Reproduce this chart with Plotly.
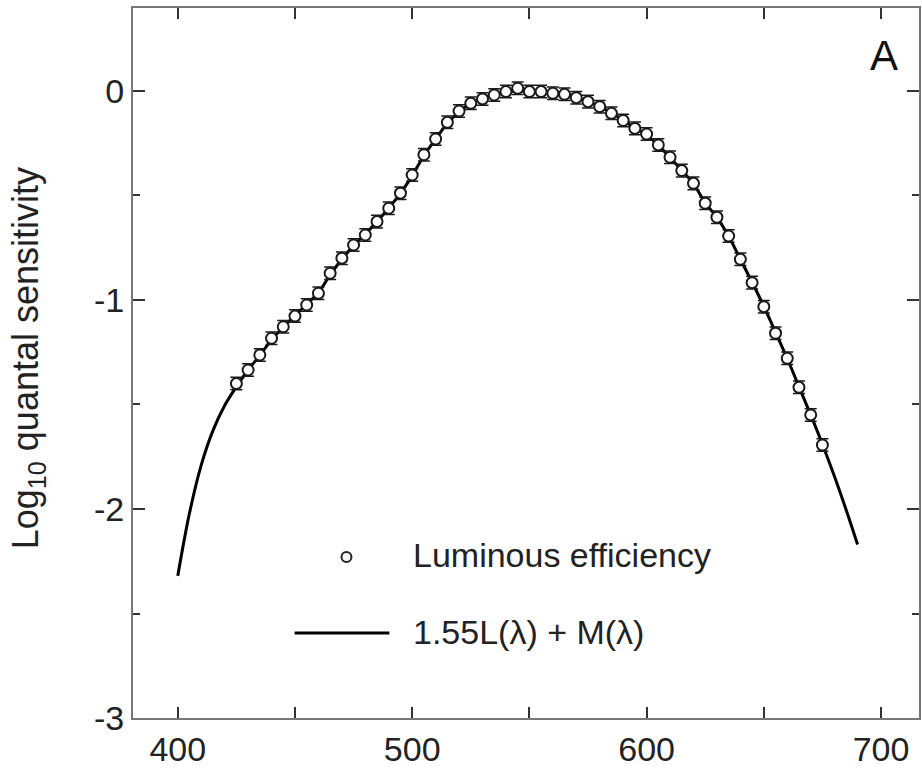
import plotly.graph_objects as go

# Luminous efficiency data (markers), 5 nm steps
wl_data = [425, 430, 435, 440, 445, 450, 455, 460, 465, 470, 475, 480, 485, 490, 495,
           500, 505, 510, 515, 520, 525, 530, 535, 540, 545, 550, 555, 560, 565, 570,
           575, 580, 585, 590, 595, 600, 605, 610, 615, 620, 625, 630, 635, 640, 645,
           650, 655, 660, 665, 670, 675]
lum_eff = [-1.40, -1.335, -1.263, -1.183, -1.128, -1.077, -1.024, -0.968, -0.872, -0.800,
           -0.737, -0.689, -0.625, -0.561, -0.489, -0.402, -0.305, -0.230, -0.150, -0.096,
           -0.059, -0.038, -0.019, -0.003, 0.013, -0.003, -0.003, -0.011, -0.016, -0.032,
           -0.051, -0.075, -0.107, -0.141, -0.179, -0.206, -0.258, -0.317, -0.381, -0.442,
           -0.537, -0.604, -0.694, -0.805, -0.917, -1.032, -1.159, -1.279, -1.418, -1.550,
           -1.694]
lum_err = [0.03] * len(wl_data)

# Fitted curve 1.55L(λ) + M(λ)
wl_fit = [400, 405, 410, 415, 420, 425, 430, 435, 440, 445, 450, 455, 460, 465, 470,
          475, 480, 485, 490, 495, 500, 505, 510, 515, 520, 525, 530, 535, 540, 545,
          550, 555, 560, 565, 570, 575, 580, 585, 590, 595, 600, 605, 610, 615, 620,
          625, 630, 635, 640, 645, 650, 655, 660, 665, 670, 675, 680, 685, 690]
fit_vals = [-2.32, -2.02, -1.79, -1.625, -1.505, -1.415, -1.335, -1.265, -1.19, -1.13,
            -1.075, -1.02, -0.965, -0.88, -0.805, -0.74, -0.685, -0.625, -0.56, -0.49,
            -0.405, -0.31, -0.23, -0.155, -0.10, -0.06, -0.035, -0.017, -0.005, 0.0,
            -0.002, -0.006, -0.013, -0.022, -0.035, -0.052, -0.075, -0.105, -0.14, -0.177,
            -0.21, -0.26, -0.318, -0.38, -0.445, -0.535, -0.605, -0.695, -0.805, -0.915,
            -1.03, -1.155, -1.28, -1.415, -1.55, -1.69, -1.84, -2.00, -2.17]

x_ticks = [400, 500, 600, 700]
y_ticks = [-3, -2, -1, 0]
legend_labels = ["Luminous efficiency", "1.55L(λ) + M(λ)"]
panel_label = "A"

FONT = "Liberation Sans, Arial, sans-serif"
W, H = 922, 769
L, R, T, B = 133, 1, 8, 51
PW, PH = W - L - R, H - T - B


def px(xp):
    return (xp - L) / PW


def py(yp):
    return (H - B - yp) / PH


fig = go.Figure()
fig.add_trace(go.Scatter(
    x=wl_fit, y=fit_vals, mode="lines",
    line=dict(color="black", width=3, shape="spline"),
    showlegend=False, hoverinfo="skip"))
fig.add_trace(go.Scatter(
    x=wl_data, y=lum_eff, mode="markers",
    marker=dict(symbol="circle", size=11, color="white",
                line=dict(color="#1a1a1a", width=2)),
    error_y=dict(type="data", array=lum_err, visible=True,
                 color="#1a1a1a", thickness=1.5, width=6),
    showlegend=False))

axis_col = "#777777"
fig.update_xaxes(
    range=[380.9, 716.2], tickvals=x_ticks, ticktext=[str(v) for v in x_ticks],
    ticks="inside", ticklen=7, tickwidth=2, tickcolor="#333",
    showline=True, linecolor=axis_col, linewidth=2, mirror="ticks",
    showgrid=False, zeroline=False,
    minor=dict(tick0=0, dtick=50, ticks="inside", ticklen=11, tickwidth=2,
               tickcolor="#333", showgrid=False),
    tickfont=dict(family=FONT, size=34, color="#222"))
fig.update_yaxes(
    range=[-3, 0.397], tickvals=y_ticks, ticktext=[str(v) for v in y_ticks],
    ticks="inside", ticklen=12, tickwidth=2, tickcolor="#333",
    showline=True, linecolor=axis_col, linewidth=2, mirror="ticks",
    showgrid=False, zeroline=False,
    minor=dict(tick0=0, dtick=0.5, ticks="inside", ticklen=7, tickwidth=2,
               tickcolor="#333", showgrid=False),
    tickfont=dict(family=FONT, size=34, color="#222"))

annotations = [
    dict(text="Log<sub>10</sub> quantal sensitivity", textangle=-90,
         x=px(28), y=py(358), xref="paper", yref="paper",
         xanchor="center", yanchor="middle", showarrow=False,
         font=dict(family=FONT, size=36, color="#222")),
    dict(text=panel_label, x=px(886), y=py(55), xref="paper", yref="paper",
         xanchor="center", yanchor="middle", showarrow=False,
         font=dict(family=FONT, size=42, color="#111")),
    dict(text=legend_labels[0], x=px(412), y=py(555), xref="paper", yref="paper",
         xanchor="left", yanchor="middle", showarrow=False,
         font=dict(family=FONT, size=34, color="#222")),
    dict(text=legend_labels[1], x=px(412), y=py(632), xref="paper", yref="paper",
         xanchor="left", yanchor="middle", showarrow=False,
         font=dict(family=FONT, size=34, color="#222")),
]
shapes = [
    dict(type="circle", xref="paper", yref="paper",
         x0=px(342), x1=px(352), y0=py(562), y1=py(552),
         line=dict(color="#222", width=2), fillcolor="white"),
    dict(type="line", xref="paper", yref="paper",
         x0=px(295), x1=px(390), y0=py(633), y1=py(633),
         line=dict(color="black", width=3)),
]

fig.update_layout(
    width=W, height=H, margin=dict(l=L, r=R, t=T, b=B),
    paper_bgcolor="white", plot_bgcolor="white",
    annotations=annotations, shapes=shapes, showlegend=False)

fig.write_html("out.html")
